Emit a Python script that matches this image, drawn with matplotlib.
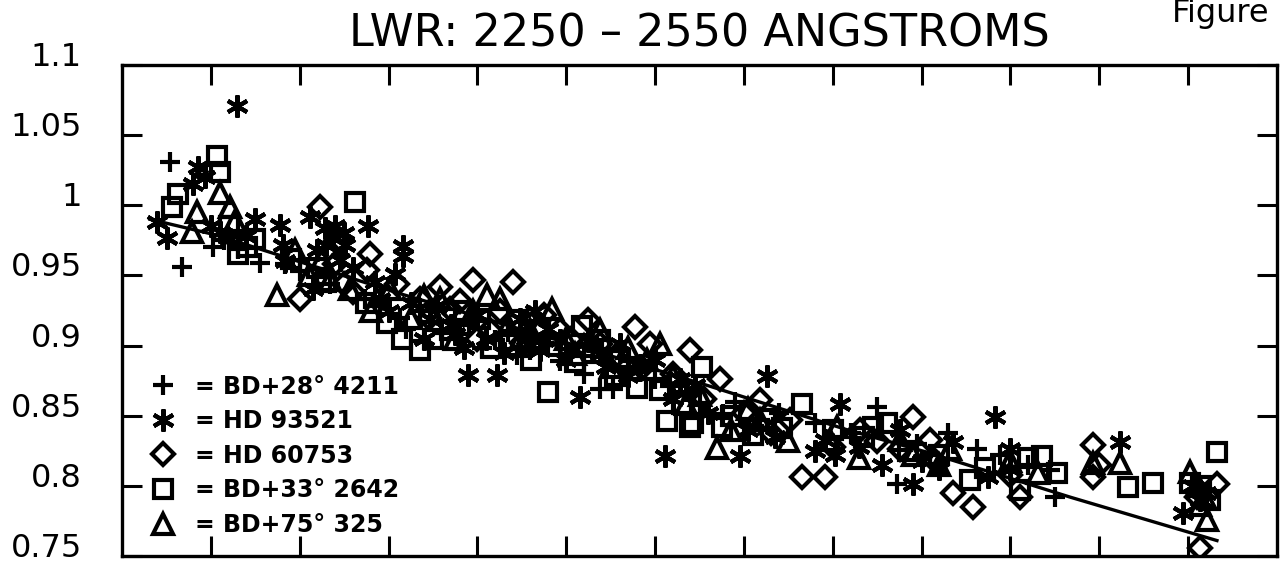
import matplotlib
matplotlib.use("Agg")
import matplotlib.pyplot as plt
from matplotlib.transforms import ScaledTranslation

# ---------------- data ----------------
title = "LWR: 2250 – 2550 ANGSTROMS"
y_ticks = [0.75, 0.8, 0.85, 0.9, 0.95, 1.0, 1.05, 1.1]
y_tick_labels = ["0.75", "0.8", "0.85", "0.9", "0.95", "1", "1.05", "1.1"]
x_ticks = [1979, 1980, 1981, 1982, 1983, 1984, 1985, 1986, 1987, 1988, 1989, 1990]

labels = ["= BD+28° 4211", "= HD 93521", "= HD 60753", "= BD+33° 2642", "= BD+75° 325"]

plus_x = [1978.54, 1978.68, 1979.02, 1979.15, 1979.31, 1979.55, 1979.83, 1980.00, 1980.34,
          1980.73, 1980.90, 1981.13, 1981.20, 1981.35, 1981.47, 1981.60, 1981.80, 1981.90,
          1982.05, 1982.20, 1982.35, 1982.45, 1982.59, 1982.75, 1982.93, 1983.05, 1983.20,
          1983.38, 1983.53, 1983.70, 1983.83, 1984.00, 1984.17, 1984.35, 1984.50, 1984.76,
          1984.90, 1985.18, 1985.40, 1985.80, 1986.20, 1986.50, 1986.72, 1986.95, 1987.09,
          1987.30, 1987.62, 1987.88, 1988.20, 1988.44, 1988.50]
plus_y = [1.031, 0.956, 0.970, 0.975, 0.969, 0.959, 0.958, 0.953, 0.944,
          0.933, 0.928, 0.920, 0.912, 0.925, 0.917, 0.909, 0.908, 0.915,
          0.898, 0.904, 0.910, 0.893, 0.897, 0.902, 0.889, 0.894, 0.880,
          0.869, 0.869, 0.889, 0.881, 0.876, 0.872, 0.867, 0.859, 0.851,
          0.860, 0.847, 0.852, 0.845, 0.838, 0.856, 0.801, 0.830, 0.822,
          0.838, 0.826, 0.822, 0.815, 0.811, 0.792]

ast_x = [1978.39, 1978.51, 1978.80, 1978.86, 1978.93, 1979.00, 1979.10, 1979.22, 1979.29,
         1979.40, 1979.50, 1979.78, 1979.81, 1979.83, 1980.12, 1980.15, 1980.20, 1980.28,
         1980.30, 1980.37, 1980.40, 1980.45, 1980.50, 1980.51, 1980.60, 1980.77, 1980.85,
         1980.90, 1981.00, 1981.07, 1981.16, 1981.16, 1981.25, 1981.40, 1981.47, 1981.55,
         1981.70, 1981.75, 1981.85, 1981.89, 1982.00, 1982.10, 1982.22, 1982.30, 1982.48,
         1982.55, 1982.65, 1982.70, 1982.80, 1982.93, 1983.00, 1983.15, 1983.25, 1983.38,
         1983.45, 1983.60, 1983.70, 1983.83, 1984.00, 1984.11, 1984.20, 1984.28, 1984.45,
         1984.60, 1984.96, 1985.05, 1985.26, 1985.35, 1985.80, 1985.91, 1986.02, 1986.08,
         1986.30, 1986.55, 1986.76, 1986.90, 1987.00, 1987.20, 1987.35, 1987.75, 1987.83,
         1987.99, 1988.00, 1989.23, 1989.94, 1990.05, 1990.13, 1990.20]
ast_y = [0.988, 0.977, 1.015, 1.027, 1.020, 0.985, 0.981, 0.976, 1.071,
         0.978, 0.990, 0.986, 0.972, 0.960, 0.992, 0.940, 0.968, 0.984,
         0.972, 0.978, 0.985, 0.961, 0.980, 0.972, 0.955, 0.985, 0.945,
         0.933, 0.925, 0.951, 0.971, 0.964, 0.930, 0.905, 0.919, 0.928,
         0.915, 0.908, 0.898, 0.879, 0.922, 0.905, 0.879, 0.895, 0.919,
         0.905, 0.925, 0.897, 0.912, 0.904, 0.890, 0.863, 0.903, 0.894,
         0.885, 0.901, 0.878, 0.886, 0.890, 0.821, 0.862, 0.876, 0.872,
         0.852, 0.821, 0.840, 0.878, 0.835, 0.825, 0.833, 0.822, 0.858,
         0.828, 0.815, 0.840, 0.801, 0.818, 0.812, 0.831, 0.806, 0.849,
         0.826, 0.812, 0.831, 0.781, 0.800, 0.790, 0.795]

dia_x = [1980.00, 1980.23, 1980.40, 1980.45, 1980.50, 1980.60, 1980.76, 1980.79, 1981.10,
         1981.35, 1981.45, 1981.58, 1981.69, 1981.80, 1981.95, 1982.00, 1982.14, 1982.25,
         1982.40, 1982.50, 1982.59, 1982.75, 1982.93, 1983.05, 1983.25, 1983.38, 1983.55,
         1983.77, 1983.85, 1983.94, 1984.20, 1984.39, 1984.55, 1984.73, 1985.00, 1985.18,
         1985.30, 1985.52, 1985.65, 1985.91, 1986.00, 1986.31, 1986.50, 1986.76, 1986.90,
         1987.09, 1987.15, 1987.35, 1987.58, 1988.00, 1988.11, 1988.93, 1988.93, 1989.00,
         1990.10, 1990.13, 1990.32]
dia_y = [0.933, 0.999, 0.958, 0.975, 0.944, 0.938, 0.954, 0.965, 0.944,
         0.933, 0.920, 0.942, 0.926, 0.932, 0.947, 0.905, 0.911, 0.925,
         0.945, 0.902, 0.919, 0.922, 0.911, 0.905, 0.918, 0.901, 0.892,
         0.913, 0.884, 0.901, 0.880, 0.897, 0.862, 0.876, 0.852, 0.861,
         0.838, 0.847, 0.806, 0.806, 0.828, 0.840, 0.832, 0.826, 0.849,
         0.833, 0.818, 0.795, 0.785, 0.808, 0.792, 0.806, 0.829, 0.815,
         0.792, 0.756, 0.801]

sq_x = [1978.56, 1978.63, 1979.07, 1979.10, 1979.20, 1979.30, 1979.41, 1979.50, 1979.90,
        1980.20, 1980.30, 1980.62, 1980.75, 1980.98, 1981.15, 1981.35, 1981.50, 1981.69,
        1981.85, 1982.03, 1982.15, 1982.37, 1982.45, 1982.60, 1982.70, 1982.79, 1982.90,
        1983.10, 1983.18, 1983.30, 1983.38, 1983.55, 1983.60, 1983.80, 1984.05, 1984.13,
        1984.30, 1984.39, 1984.43, 1984.53, 1984.75, 1984.85, 1985.10, 1985.25, 1985.43,
        1985.65, 1986.00, 1986.35, 1986.45, 1986.61, 1986.85, 1987.20, 1987.54, 1987.71,
        1988.11, 1988.20, 1988.35, 1988.52, 1989.32, 1989.60, 1990.02, 1990.15, 1990.25,
        1990.32]
sq_y = [0.999, 1.008, 1.035, 1.024, 0.985, 0.965, 0.970, 0.976, 0.962,
        0.955, 0.945, 1.002, 0.930, 0.916, 0.905, 0.897, 0.905, 0.911,
        0.925, 0.919, 0.898, 0.904, 0.918, 0.890, 0.911, 0.867, 0.900,
        0.888, 0.914, 0.895, 0.904, 0.878, 0.890, 0.870, 0.868, 0.846,
        0.858, 0.842, 0.845, 0.885, 0.842, 0.850, 0.836, 0.848, 0.841,
        0.858, 0.840, 0.835, 0.842, 0.845, 0.825, 0.822, 0.804, 0.813,
        0.797, 0.820, 0.821, 0.809, 0.799, 0.802, 0.802, 0.800, 0.790,
        0.824]

tri_x = [1978.79, 1978.84, 1979.10, 1979.22, 1979.27, 1979.74, 1979.95, 1980.10, 1980.25,
         1980.34, 1980.57, 1980.80, 1981.02, 1981.25, 1981.40, 1981.58, 1981.75, 1981.95,
         1982.11, 1982.25, 1982.35, 1982.45, 1982.59, 1982.70, 1982.84, 1983.00, 1983.10,
         1983.20, 1983.38, 1983.50, 1983.70, 1983.91, 1984.06, 1984.20, 1984.35, 1984.51,
         1984.70, 1984.85, 1985.05, 1985.18, 1985.50, 1985.97, 1986.05, 1986.30, 1986.76,
         1986.90, 1987.20, 1987.32, 1988.00, 1988.31, 1988.93, 1989.23, 1990.02, 1990.10,
         1990.13, 1990.18, 1990.21]
tri_y = [0.981, 0.995, 1.009, 0.999, 0.989, 0.936, 0.968, 0.950, 0.962,
         0.947, 0.940, 0.925, 0.940, 0.920, 0.935, 0.933, 0.905, 0.925,
         0.936, 0.933, 0.915, 0.900, 0.911, 0.915, 0.926, 0.905, 0.894,
         0.900, 0.911, 0.885, 0.898, 0.890, 0.901, 0.878, 0.858, 0.865,
         0.827, 0.840, 0.855, 0.847, 0.832, 0.833, 0.842, 0.820, 0.833,
         0.822, 0.815, 0.826, 0.818, 0.809, 0.816, 0.816, 0.810, 0.800,
         0.786, 0.793, 0.776]

fit_x = [1978.315, 1979.047, 1981.129, 1983.380, 1984.618, 1986.160, 1987.060, 1988.670, 1990.324]
fit_y = [0.990, 0.979, 0.937, 0.895, 0.871, 0.840, 0.824, 0.792, 0.761]

# ---------------- figure ----------------
W, H, DPI = 1285, 565, 100
fig = plt.figure(figsize=(W / DPI, H / DPI), dpi=DPI)
left, right, top, bottom = 122, 1277, 65, 556
ax = fig.add_axes([left / W, 1 - bottom / H, (right - left) / W, (bottom - top) / H])

mk = dict(ls="none", color="black", mfc="none", mec="black", mew=3.0)
h1, = ax.plot(plus_x, plus_y, marker="+", ms=15, label=labels[0], **mk)
h2, = ax.plot(ast_x, ast_y, marker=(6, 2, 0), ms=16, label=labels[1], **mk)
h3, = ax.plot(dia_x, dia_y, marker="D", ms=11, label=labels[2], **mk)
h4, = ax.plot(sq_x, sq_y, marker="s", ms=13, label=labels[3], **mk)
h5, = ax.plot(tri_x, tri_y, marker="^", ms=14, label=labels[4], **mk)
ax.plot(fit_x, fit_y, color="black", lw=2.4)

ax.set_xlim(1978, 1991)
ax.set_ylim(0.75, 1.1)
ax.set_xticks(x_ticks)
ax.set_xticklabels([])
ax.set_yticks(y_ticks)
ax.set_yticklabels(y_tick_labels)
ax.tick_params(axis="both", direction="in", length=14.5, width=2.2,
               top=True, bottom=True, left=True, right=True)
ax.tick_params(axis="y", labelsize=23, pad=29)
off = ScaledTranslation(0, 11 / DPI, fig.dpi_scale_trans)
for lab in ax.get_yticklabels():
    lab.set_transform(lab.get_transform() + off)
for s in ax.spines.values():
    s.set_linewidth(2.4)

ax.set_title(title, fontsize=32, pad=13)
fig.text(1172 / W, 1 - 22 / H, "Figure", fontsize=23, ha="left", va="baseline")

leg = ax.legend(handles=[h1, h2, h3, h4, h5], loc="lower left",
                bbox_to_anchor=((151 - left) / (right - left), (bottom - 537) / (bottom - top)),
                frameon=False, borderpad=0, borderaxespad=0,
                handlelength=1.0, handletextpad=0.85, labelspacing=0.45,
                prop=dict(size=17, weight="bold"))

fig.savefig("out.png", dpi=DPI)
